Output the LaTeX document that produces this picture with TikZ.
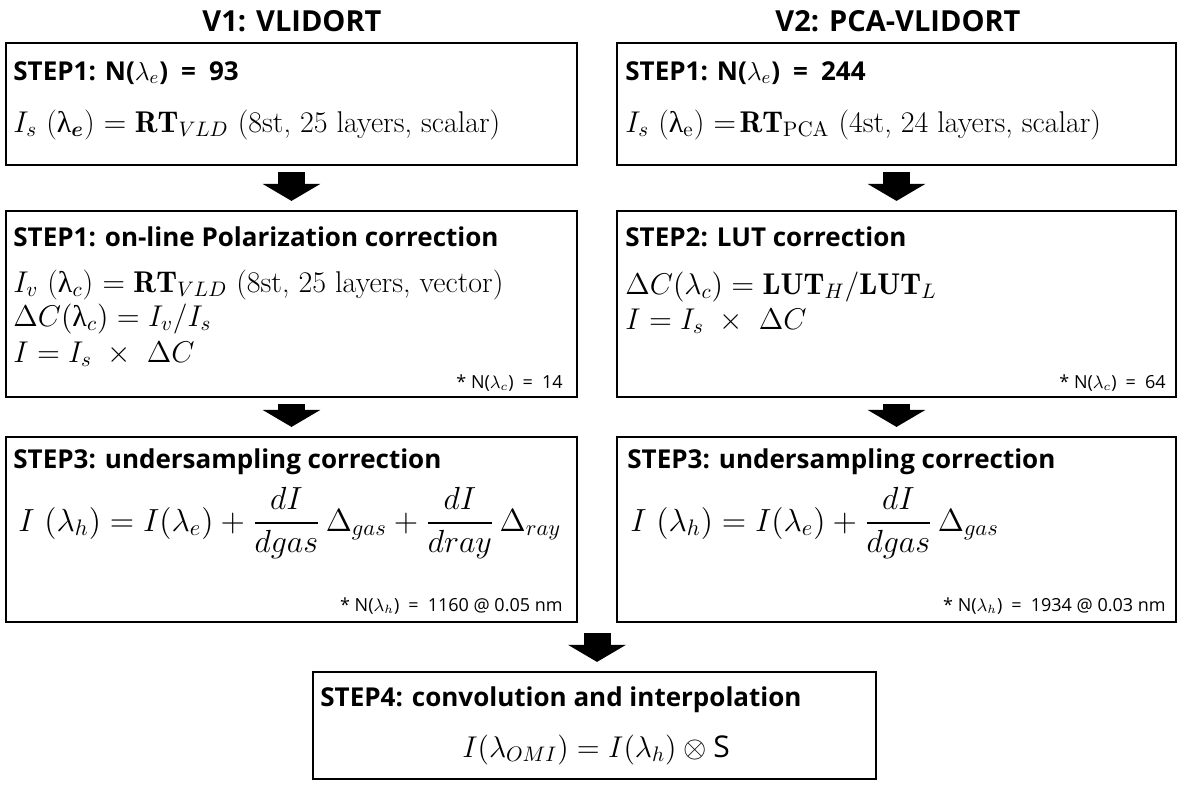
\RequirePackage{fix-cm}
\documentclass[tikz,border=0pt]{standalone}
\usepackage{amsmath}
\usepackage{bm}
\usepackage{fontspec}
\usetikzlibrary{arrows.meta,calc,fit}
\newfontfamily\hdfont{Open Sans}
\newfontfamily\grkfont{Liberation Serif}
\newcommand{\ulam}{\text{\grkfont λ}}

\tikzset{
  box/.style={draw, line width=1.1pt, inner sep=0pt},
  head/.style={anchor=base west, inner sep=0pt, font=\hdfont\bfseries\fontsize{13}{15}\selectfont},
  eqn/.style={anchor=base west, inner sep=0pt, font=\fontsize{15}{17}\selectfont},
  bigeqn/.style={anchor=base west, inner sep=0pt, font=\fontsize{16}{19}\selectfont},
  note/.style={anchor=base east, inner sep=0pt, font=\hdfont\fontsize{9}{11}\selectfont},
  ttl/.style={anchor=base, inner sep=0pt, font=\hdfont\bfseries\fontsize{14.5}{17}\selectfont},
  blockarrow/.style={line width=13.5pt, -{Triangle[width=28.5pt,length=8.5pt]},
    shorten <=3pt, shorten >=4.5pt}
}

\begin{document}
\begin{tikzpicture}[x=0.5pt,y=-0.5pt]
\useasboundingbox (0,0) rectangle (1181,784);

% column titles
\node[ttl] (t1) at (292,31) {V1: VLIDORT};
\node[ttl] (t2) at (898,31) {V2: PCA-VLIDORT};

% boxes
\coordinate (l1a) at (6,43);   \coordinate (l1b) at (577,165);
\coordinate (r1a) at (617,43); \coordinate (r1b) at (1176,165);
\coordinate (l2a) at (6,211);  \coordinate (l2b) at (577,397);
\coordinate (r2a) at (617,211);\coordinate (r2b) at (1176,397);
\coordinate (l3a) at (6,437);  \coordinate (l3b) at (577,622);
\coordinate (r3a) at (617,437);\coordinate (r3b) at (1176,622);
\coordinate (b4a) at (313,672);\coordinate (b4b) at (876,779);
\node[box, fit=(l1a)(l1b)] (l1) {};
\node[box, fit=(r1a)(r1b)] (r1) {};
\node[box, fit=(l2a)(l2b)] (l2) {};
\node[box, fit=(r2a)(r2b)] (r2) {};
\node[box, fit=(l3a)(l3b)] (l3) {};
\node[box, fit=(r3a)(r3b)] (r3) {};
\node[box, fit=(b4a)(b4b)] (b4) {};

% V1 column
\node[head] (l1h) at (13,80) {STEP1: N($\lambda_e$)\enspace=\enspace93};
\node[eqn] (l1e) at (13,132) {$I_s$\ (\ulam$_{\bm e}$) $=\mathbf{RT}_{VLD}$ (8st, 25 layers, scalar)};

\node[head] (l2h) at (13,246) {STEP1: on-line Polarization correction};
\node[eqn] (l2e1) at (13,292) {$I_v$\ (\ulam$_c$) $=\mathbf{RT}_{VLD}$ (8st, 25 layers, vector)};
\node[eqn] (l2e2) at (13,326) {$\Delta C($\ulam$_c) = I_v/I_s$};
\node[eqn] (l2e3) at (13,362) {$I = I_s\ \times\ \Delta C$};
\node[note] (l2n) at (563,388) {* N($\lambda_c$)\enspace=\enspace14};

\node[head] (l3h) at (13,468) {STEP3: undersampling correction};
\node[bigeqn] (l3e) at (18,531) {$I\ (\lambda_h) = I(\lambda_e) + \dfrac{dI}{dgas}\,\Delta_{gas} + \dfrac{dI}{dray}\,\Delta_{ray}$};
\node[note] (l3n) at (563,611) {* N($\lambda_h$)\enspace=\enspace1160 @ 0.05 nm};

% V2 column
\node[head] (r1h) at (625,80) {STEP1: N($\lambda_e$)\enspace=\enspace244};
\node[eqn] (r1e) at (625,132) {$I_s$\ (\ulam$_{\mathrm{e}}$) $=\!\mathbf{RT}_{\mathrm{PCA}}$ (4st, 24 layers, scalar)};

\node[head] (r2h) at (625,246) {STEP2: LUT correction};
\node[eqn] (r2e1) at (625,294) {$\Delta C(\lambda_c) = \mathbf{LUT}_H/\mathbf{LUT}_L$};
\node[eqn] (r2e2) at (625,329) {$I = I_s\ \times\ \Delta C$};
\node[note] (r2n) at (1166,388) {* N($\lambda_c$)\enspace=\enspace64};

\node[head] (r3h) at (627,468) {STEP3: undersampling correction};
\node[bigeqn] (r3e) at (630,531) {$I\ (\lambda_h) = I(\lambda_e) + \dfrac{dI}{dgas}\,\Delta_{gas}$};
\node[note] (r3n) at (1166,611) {* N($\lambda_h$)\enspace=\enspace1934 @ 0.03 nm};

% final step
\node[head] (b4h) at (320,706) {STEP4: convolution and interpolation};
\node[eqn, anchor=base] (b4e) at (596,757) {$I(\lambda_{OMI}) = I(\lambda_h) \otimes \text{\hdfont S}$};

% flow arrows
\draw[blockarrow] (l1.south) -- (l2.north);
\draw[blockarrow] (r1.south) -- (r2.north);
\draw[blockarrow] (l2.south) -- (l3.north);
\draw[blockarrow] (r2.south) -- (r3.north);
\coordinate (m3) at ($(l3.south east)!0.5!(r3.south west)$);
\draw[blockarrow, shorten <=5pt] (m3) -- (m3 |- b4.north);
\end{tikzpicture}
\end{document}
